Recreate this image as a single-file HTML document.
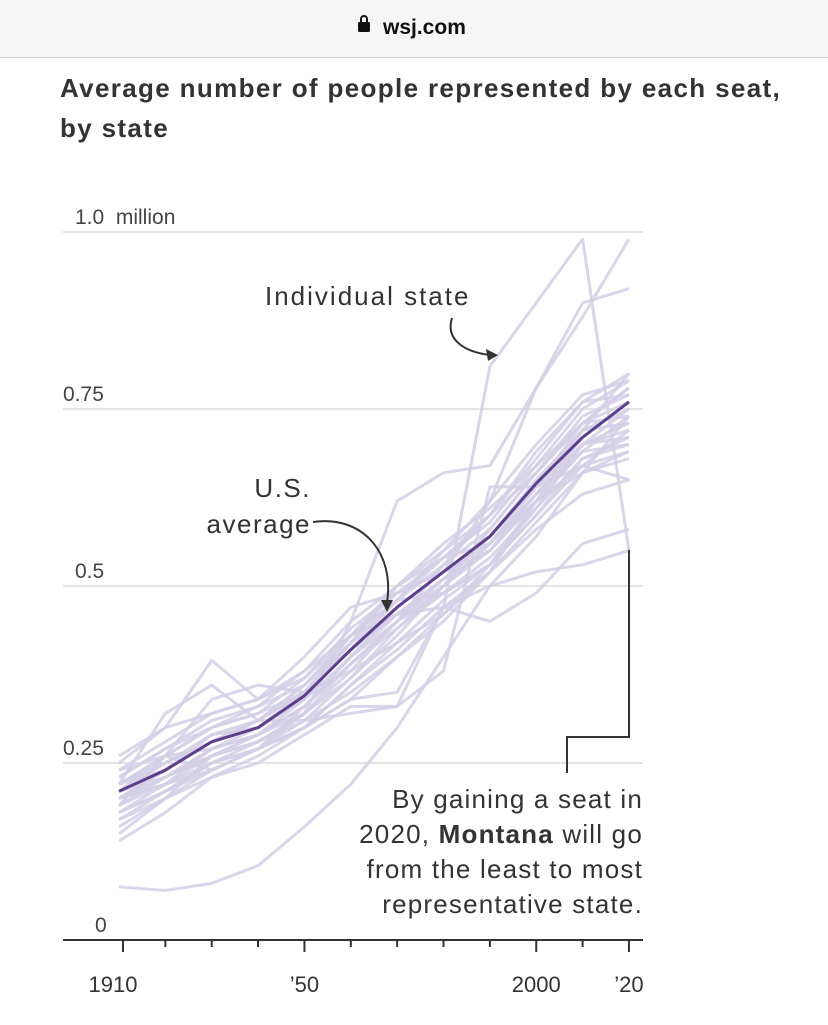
<!DOCTYPE html>
<html><head><meta charset="utf-8"><style>
body{margin:0;width:828px;height:1025px;background:#fff;font-family:"Liberation Sans",sans-serif;overflow:hidden;position:relative}
.hdr{position:absolute;left:0;top:0;width:828px;height:57px;background:#f6f6f6;border-bottom:1px solid #d0d0d0}
.title{position:absolute;left:60px;top:68px;font-weight:bold;font-size:26px;letter-spacing:1.35px;line-height:40px;color:#333;white-space:nowrap}
svg{position:absolute;left:0;top:0}
</style></head><body>
<div class="hdr"></div>
<div class="title">Average number of people represented by each seat,<br>by state</div>
<svg id="chart" width="828" height="1025">
<g><rect x="358" y="22" width="12" height="10" rx="1.5" fill="#111"/><path d="M361 22 v-3 a3 3 0 0 1 6 0 v3" fill="none" stroke="#111" stroke-width="2"/></g>
<text x="383" y="34" font-size="21" font-weight="bold" fill="#111">wsj.com</text>
</svg>
<script>
const years=[1910,1920,1930,1940,1950,1960,1970,1980,1990,2000,2010,2020];
const usAverage=[.21,.24,.28,.30,.345,.41,.47,.52,.57,.645,.71,.76];
const stateSeries=[
[.19,.26,.24,.27,.30,.34,.35,.47,.81,.90,.99,.55],
[.075,.07,.08,.105,.16,.22,.30,.40,.50,.57,.66,.74],
[.25,.30,.32,.34,.37,.43,.49,.52,.62,.78,.88,.99],
[.20,.22,.24,.27,.32,.45,.62,.66,.67,.78,.90,.92],
[.15,.20,.23,.25,.29,.33,.33,.47,.45,.49,.56,.58],
[.22,.26,.34,.36,.35,.43,.46,.47,.50,.52,.53,.55],
[.22,.32,.36,.31,.31,.32,.33,.38,.64,.64,.67,.65],
[.26,.30,.395,.34,.38,.43,.48,.49,.53,.62,.67,.69],
[.17,.20,.26,.29,.32,.39,.45,.50,.55,.62,.72,.80],
[.18,.21,.25,.27,.31,.37,.44,.50,.56,.63,.70,.72],
[.20,.23,.27,.29,.33,.40,.46,.51,.57,.64,.72,.75],
[.21,.25,.29,.31,.36,.42,.48,.53,.58,.66,.73,.78],
[.22,.26,.30,.32,.37,.44,.49,.54,.59,.67,.75,.79],
[.19,.22,.26,.28,.32,.38,.45,.51,.55,.62,.69,.74],
[.23,.27,.31,.33,.38,.45,.50,.55,.60,.68,.76,.80],
[.20,.24,.28,.30,.34,.40,.47,.52,.56,.63,.71,.76],
[.18,.22,.27,.29,.33,.39,.44,.49,.54,.61,.68,.71],
[.21,.24,.29,.30,.35,.42,.46,.50,.58,.66,.74,.77],
[.24,.28,.32,.34,.40,.47,.49,.52,.57,.65,.72,.73],
[.16,.20,.24,.27,.30,.36,.42,.48,.53,.61,.70,.73],
[.20,.23,.27,.29,.33,.39,.45,.53,.60,.66,.73,.78],
[.22,.25,.28,.31,.35,.41,.47,.52,.55,.63,.69,.70],
[.19,.23,.26,.28,.31,.35,.40,.45,.52,.59,.66,.68],
[.21,.26,.30,.33,.36,.43,.48,.54,.60,.69,.76,.77],
[.23,.27,.30,.32,.35,.38,.42,.46,.52,.62,.70,.71],
[.14,.18,.23,.26,.30,.34,.40,.46,.53,.60,.67,.72],
[.20,.24,.28,.31,.35,.41,.48,.55,.62,.70,.77,.79],
[.21,.23,.26,.29,.34,.42,.50,.54,.56,.62,.66,.69],
[.24,.26,.27,.30,.35,.41,.46,.51,.57,.64,.70,.75],
[.17,.21,.25,.28,.32,.37,.43,.50,.56,.64,.73,.76],
[.20,.22,.25,.27,.33,.40,.45,.49,.53,.60,.68,.70],
[.22,.24,.28,.31,.36,.43,.50,.56,.61,.67,.73,.74],
[.18,.21,.24,.27,.30,.36,.41,.47,.52,.58,.63,.65]
];
const yTicks=[0,.25,.5,.75,1];
const yTickLabels=["0","0.25","0.5","0.75","1.0\u00a0\u00a0million"];
const xTickYears=[1910,1920,1930,1940,1950,1960,1970,1980,1990,2000,2010,2020];
const xLabelYears=[1910,1950,2000,2020];
const xLabels=["1910","’50","2000","’20"];

const NS="http://www.w3.org/2000/svg";
const svg=document.getElementById('chart');
const X=y=>119+(y-1910)*4.636;
const Y=v=>940-v*708;
function mk(t,a,p){const e=document.createElementNS(NS,t);for(const k in a)e.setAttribute(k,a[k]);(p||svg).appendChild(e);return e;}

yTicks.forEach((v,i)=>{
  if(v>0){const g=mk('line',{x1:63,x2:643,y1:Y(v),y2:Y(v),stroke:'#dcdcdc','stroke-width':1.5});
  
  }
  const t=mk('text',{x:v===0?95:(v===1||v===.5?75:63),y:Y(v)-8,'font-size':21,fill:'#444'});
  t.textContent=yTickLabels[i];
  
  
});
const sg=mk('g',{});


stateSeries.forEach(s=>{
  const p=mk('polyline',{points:s.map((v,i)=>X(years[i])+','+Y(v)).join(' '),fill:'none',stroke:'#d3cfe6','stroke-width':3,'stroke-opacity':0.85,'stroke-linejoin':'round'},sg);
  
  
});
const av=mk('polyline',{points:usAverage.map((v,i)=>X(years[i])+','+Y(v)).join(' '),fill:'none',stroke:'#5b3f8c','stroke-width':3,'stroke-linejoin':'round'});



const ax=mk('line',{x1:63,x2:643,y1:940,y2:940,stroke:'#333','stroke-width':2});


xTickYears.forEach(y=>{const t=mk('line',{x1:X(y)+(y===1910?4:0),x2:X(y)+(y===1910?4:0),y1:940,y2:y%50===0||y===1910||y===2020?952:947,stroke:'#333','stroke-width':2});
  
  });
xLabelYears.forEach((y,i)=>{const t=mk('text',{x:X(y)+(y===1910?-6:0),y:992,'font-size':22,fill:'#333','text-anchor':'middle'});
  t.textContent=xLabels[i];
  
  });

function txt(s,x,y,anchor,name,ls){const t=mk('text',{x:x,y:y,'font-size':26,fill:'#333','text-anchor':anchor,'letter-spacing':ls});t.innerHTML=s;
  
  return t;}
txt('Individual state',265,305,'start','individual-state-label',2);
txt('U.S.',311,497,'end','us-average-label',1.5);
txt('average',311,533,'end','us-average-label-2',1.5);
const a1=mk('path',{d:'M452 318 C445 340 465 352 490 355',fill:'none',stroke:'#333','stroke-width':2});


const h1=mk('path',{d:'M498 355 L486 349 L488 361 Z',fill:'#333'});


const a2=mk('path',{d:'M313 522 C360 515 395 550 387 603',fill:'none',stroke:'#333','stroke-width':2});


const h2=mk('path',{d:'M387 612 L381 600 L393 600 Z',fill:'#333'});


const br=mk('path',{d:'M629 550 V737 H567 V773',fill:'none',stroke:'#333','stroke-width':2});


txt('By gaining a seat in',643,808,'end','montana-note-1',1.2);
txt('2020, <tspan font-weight="bold">Montana</tspan> will go',643,843,'end','montana-note-2',1.2);
txt('from the least to most',643,878,'end','montana-note-3',1.2);
txt('representative state.',643,913,'end','montana-note-4',1.2);
</script>
</body></html>
